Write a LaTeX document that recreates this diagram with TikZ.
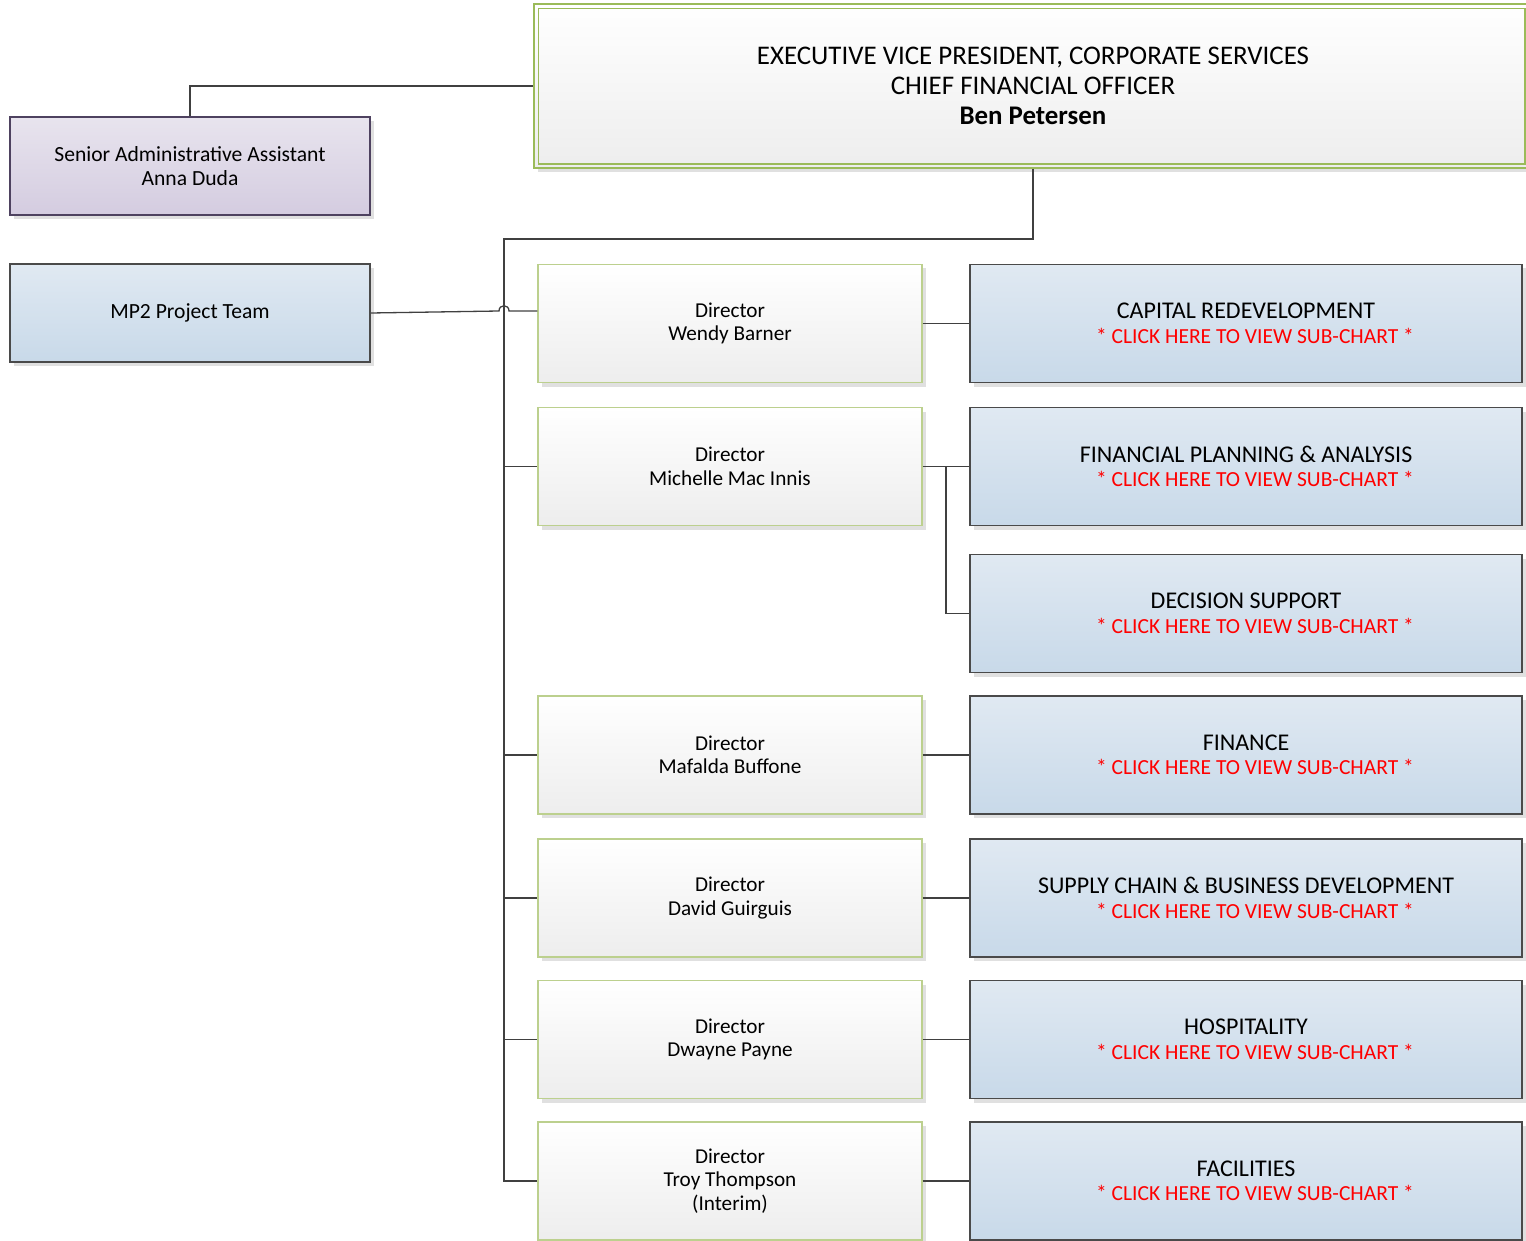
\documentclass[tikz,border=0pt]{standalone}
\usepackage{fontspec}
\setmainfont{Carlito}
\usetikzlibrary{shadows,calc}
\definecolor{lineC}{HTML}{404040}
\definecolor{greenB}{HTML}{9BBB59}
\definecolor{greenL}{HTML}{BCD08E}
\definecolor{blueT}{HTML}{E0E9F2}
\definecolor{blueB}{HTML}{C8D9E9}
\definecolor{blueBorder}{HTML}{4A4A4A}
\definecolor{purT}{HTML}{E8E4EE}
\definecolor{purB}{HTML}{D4CCE0}
\definecolor{purBorder}{HTML}{4E4260}
\definecolor{redT}{HTML}{FF0000}
\tikzset{
  shad/.style={drop shadow={shadow xshift=4pt,shadow yshift=-4pt,fill=black!12,opacity=1}},
  dirbox/.style={shad,draw=greenL,line width=1.4pt,top color=white,bottom color=black!7,
    minimum width=384pt,minimum height=118pt,inner sep=0pt,align=center,
    font=\fontsize{21.2}{23.5}\selectfont},
  deptbox/.style={shad,draw=blueBorder,line width=1.6pt,top color=blueT,bottom color=blueB,
    minimum width=552pt,minimum height=118pt,inner sep=0pt,align=center,
    font=\fontsize{24}{24.5}\selectfont},
  sidebox/.style={shad,draw=blueBorder,line width=1.6pt,top color=blueT,bottom color=blueB,
    minimum width=360pt,minimum height=98pt,inner sep=0pt,align=center,
    font=\fontsize{21.6}{24}\selectfont},
  conn/.style={draw=lineC,line width=1.3pt},
  trunk/.style={draw=lineC,line width=2.4pt},
}
\newcommand{\clickhere}{{\fontsize{21.5}{24.5}\selectfont\textcolor{redT}{\hspace*{18pt}* CLICK HERE TO VIEW SUB-CHART *}}}
\begin{document}
\begin{tikzpicture}[x=1pt,y=-1pt]
\useasboundingbox (0,0) rectangle (1526,1241);
% CEO box
\node[shad,draw=greenB,line width=1.4pt,top color=white,bottom color=black!7,
  minimum width=998pt,minimum height=164pt,inner sep=0pt,align=center,
  font=\fontsize{26.9}{30}\selectfont] (ceo) at (1033,86)
  {EXECUTIVE VICE PRESIDENT, CORPORATE SERVICES\\CHIEF FINANCIAL OFFICER\\\textbf{Ben Petersen}};
\draw[greenB,line width=1.2pt] ($(ceo.north west)+(5,5)$) rectangle (1525,164);
% side boxes
\node[sidebox,draw=purBorder,top color=purT,bottom color=purB] (admin) at (190,166)
  {Senior Administrative Assistant\\Anna Duda};
\node[sidebox] (mp2) at (190,313) {MP2 Project Team};
% directors
\node[dirbox] (d1) at (730,323.5) {Director\\Wendy Barner};
\node[dirbox] (d2) at (730,466.5) {Director\\Michelle Mac Innis};
\node[dirbox] (d3) at (730,755) {Director\\Mafalda Buffone};
\node[dirbox] (d4) at (730,898) {Director\\David Guirguis};
\node[dirbox] (d5) at (730,1039.5) {Director\\Dwayne Payne};
\node[dirbox] (d6) at (730,1181) {Director\\Troy Thompson\\(Interim)};
% departments
\node[deptbox] (cap) at (1246,323.5) {CAPITAL REDEVELOPMENT\\\clickhere};
\node[deptbox] (fpa) at (1246,466.5) {FINANCIAL PLANNING \& ANALYSIS\\\clickhere};
\node[deptbox] (ds) at (1246,613.5) {DECISION SUPPORT\\\clickhere};
\node[deptbox] (fin) at (1246,755) {FINANCE\\\clickhere};
\node[deptbox] (scm) at (1246,898) {SUPPLY CHAIN \& BUSINESS DEVELOPMENT\\\clickhere};
\node[deptbox] (hos) at (1246,1039.5) {HOSPITALITY\\\clickhere};
\node[deptbox] (fac) at (1246,1181) {FACILITIES\\\clickhere};
% connectors
\coordinate (adminup) at (190,86);
\draw[conn] (admin.north) -- (adminup) -- (adminup -| ceo.west);
\coordinate (tk) at (504,239);
\coordinate (tkb) at (504,1040);
\draw[trunk] (ceo.south) |- (tk) -- (tkb);
\draw[trunk,line width=2.8pt] (tkb) |- (d6.west);
\coordinate (hopL) at (499,311);
\coordinate (hopR) at (509,311);
\draw[conn] (mp2.east) -- (hopL) .. controls (499,304) and (509,304) .. (hopR) -- (hopR -| d1.west);
\foreach \d in {d2,d3,d4,d5}{
  \draw[conn] (\d.west -| tk) -- (\d.west);
}
\draw[conn] (d1.east) -- (cap.west);
\draw[conn] (d2.east) -- (fpa.west);
\coordinate (br) at (946,466.5);
\draw[conn] (br) |- (ds.west);
\draw[conn] (d3.east) -- (fin.west);
\draw[conn] (d4.east) -- (scm.west);
\draw[conn] (d5.east) -- (hos.west);
\draw[conn,line width=2.8pt] (d6.east) -- (fac.west);
\end{tikzpicture}
\end{document}
